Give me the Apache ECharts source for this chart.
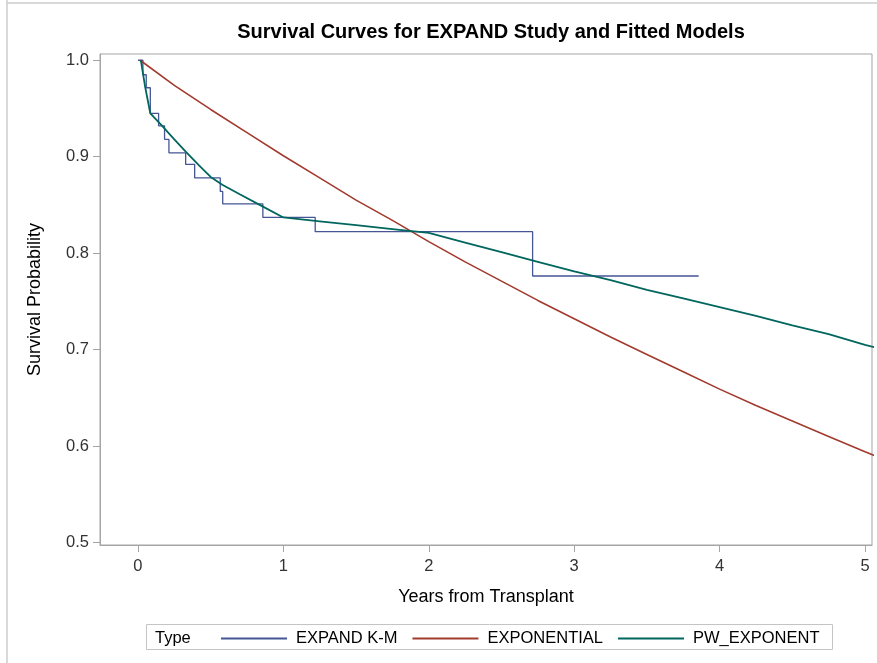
<!DOCTYPE html>
<html>
<head>
<meta charset="utf-8">
<script src="https://cdn.jsdelivr.net/npm/echarts@6/dist/echarts.min.js"></script>
<style>
  html, body { margin: 0; padding: 0; background: #fff; }
  #chart { width: 877px; height: 663px; }
</style>
</head>
<body>
<div id="chart"></div>
<script>
// Kaplan-Meier estimate (years, survival)
var kmTime = [0, 0.034, 0.057, 0.085, 0.142, 0.183, 0.213, 0.328, 0.39, 0.566, 0.583, 0.859, 1.219, 2.714, 3.856];
var kmSurv = [1.0, 0.985, 0.9715, 0.945, 0.932, 0.918, 0.904, 0.892, 0.878, 0.864, 0.851, 0.837, 0.8223, 0.7763, 0.7763];

// Fitted exponential model
var expTime = [0.015, 0.25, 0.5, 0.75, 1.0, 1.25, 1.5, 1.75, 2.0, 2.25, 2.5, 2.75, 3.0, 3.25, 3.5, 3.75, 4.0, 4.25, 4.5, 4.75, 5.0, 5.1];
var expSurv = [1.0, 0.974, 0.949, 0.925, 0.901, 0.878, 0.855, 0.834, 0.812, 0.791, 0.771, 0.751, 0.732, 0.713, 0.695, 0.677, 0.659, 0.642, 0.626, 0.610, 0.594, 0.588];

// Fitted piecewise exponential model
var pwTime = [0.02, 0.05, 0.085, 0.16, 0.25, 0.33, 0.42, 0.5, 0.58, 0.7, 0.85, 1.0, 1.25, 1.5, 1.75, 2.0, 2.25, 2.5, 2.75, 3.0, 3.25, 3.5, 3.75, 4.0, 4.25, 4.5, 4.75, 5.0, 5.1];
var pwSurv = [1.0, 0.972, 0.945, 0.933, 0.918, 0.905, 0.891, 0.879, 0.871, 0.861, 0.849, 0.837, 0.833, 0.829, 0.825, 0.821, 0.811, 0.801, 0.791, 0.781, 0.772, 0.762, 0.753, 0.744, 0.735, 0.725, 0.716, 0.705, 0.701];

var seriesNames = ['EXPAND K-M', 'EXPONENTIAL', 'PW_EXPONENT'];
var seriesColors = ['#445694', '#A23A2E', '#01665E'];

var xTicks = [0, 1, 2, 3, 4, 5];
var yTicks = [0.5, 0.6, 0.7, 0.8, 0.9, 1.0];

function pairs(t, s) {
  return t.map(function (v, i) { return [v, s[i]]; });
}

var FONT = '"Liberation Sans", Arial, sans-serif';
var AXIS_GRAY = '#a5a5a5';

var chart = echarts.init(document.getElementById('chart'), null, { renderer: 'canvas' });

chart.setOption({
  backgroundColor: '#ffffff',
  animation: false,
  title: {
    text: 'Survival Curves for EXPAND Study and Fitted Models',
    left: 486, textAlign: 'center',
    top: 17,
    textStyle: { fontFamily: FONT, fontSize: 20, fontWeight: 'bold', color: '#000' }
  },
  grid: {
    left: 100, top: 54, width: 772, height: 491,
    show: true, borderColor: AXIS_GRAY, borderWidth: 1, backgroundColor: 'transparent'
  },
  legend: {
    data: seriesNames,
    left: 216, top: 625,
    icon: 'rect', itemWidth: 66, itemHeight: 2, itemGap: 15,
    textStyle: { fontFamily: FONT, fontSize: 16.5, color: '#000', padding: [0, 0, 0, 4] }
  },
  xAxis: {
    type: 'value', min: -0.261, max: 5.048,
    name: 'Years from Transplant', nameLocation: 'middle', nameGap: 43,
    nameTextStyle: { fontFamily: FONT, fontSize: 18, color: '#000' },
    axisLine: { show: true, onZero: false, lineStyle: { color: AXIS_GRAY } },
    axisTick: { show: true, length: 7, customValues: xTicks, lineStyle: { color: AXIS_GRAY } },
    axisLabel: { customValues: xTicks, margin: 13, fontFamily: FONT, fontSize: 16.5, color: '#333' },
    splitLine: { show: false }
  },
  yAxis: {
    type: 'value', min: 0.4974, max: 1.0065,
    name: 'Survival Probability', nameLocation: 'middle', nameGap: 56,
    nameTextStyle: { fontFamily: FONT, fontSize: 18, color: '#000' },
    axisLine: { show: true, onZero: false, lineStyle: { color: AXIS_GRAY } },
    axisTick: { show: true, length: 7, customValues: yTicks, lineStyle: { color: AXIS_GRAY } },
    axisLabel: {
      customValues: yTicks, margin: 11, fontFamily: FONT, fontSize: 16.5, color: '#333',
      formatter: function (v) { return v.toFixed(1); }
    },
    splitLine: { show: false }
  },
  series: [
    {
      name: seriesNames[0], type: 'line', step: 'end',
      data: pairs(kmTime, kmSurv), showSymbol: false, symbol: 'none',
      color: seriesColors[0], lineStyle: { width: 1.3, color: seriesColors[0] }, z: 2
    },
    {
      name: seriesNames[1], type: 'line',
      data: pairs(expTime, expSurv), showSymbol: false, symbol: 'none',
      color: seriesColors[1], lineStyle: { width: 1.6, color: seriesColors[1] }, z: 3
    },
    {
      name: seriesNames[2], type: 'line',
      data: pairs(pwTime, pwSurv), showSymbol: false, symbol: 'none',
      color: seriesColors[2], lineStyle: { width: 1.8, color: seriesColors[2] }, z: 4
    }
  ],
  graphic: [
    { type: 'line', shape: { x1: 7, y1: 0, x2: 7, y2: 663 }, style: { stroke: '#cccccc', lineWidth: 1.5 }, silent: true },
    { type: 'line', shape: { x1: 7, y1: 3, x2: 877, y2: 3 }, style: { stroke: '#cccccc', lineWidth: 1.5 }, silent: true },
    { type: 'rect', shape: { x: 146.5, y: 624.5, width: 686, height: 25 }, style: { fill: 'none', stroke: '#c4c4c4', lineWidth: 1 }, silent: true },
    { type: 'text', x: 155, y: 638, style: { text: 'Type', fontFamily: FONT, fontSize: 16.5, fill: '#000', verticalAlign: 'middle' }, silent: true }
  ]
});
</script>
</body>
</html>
